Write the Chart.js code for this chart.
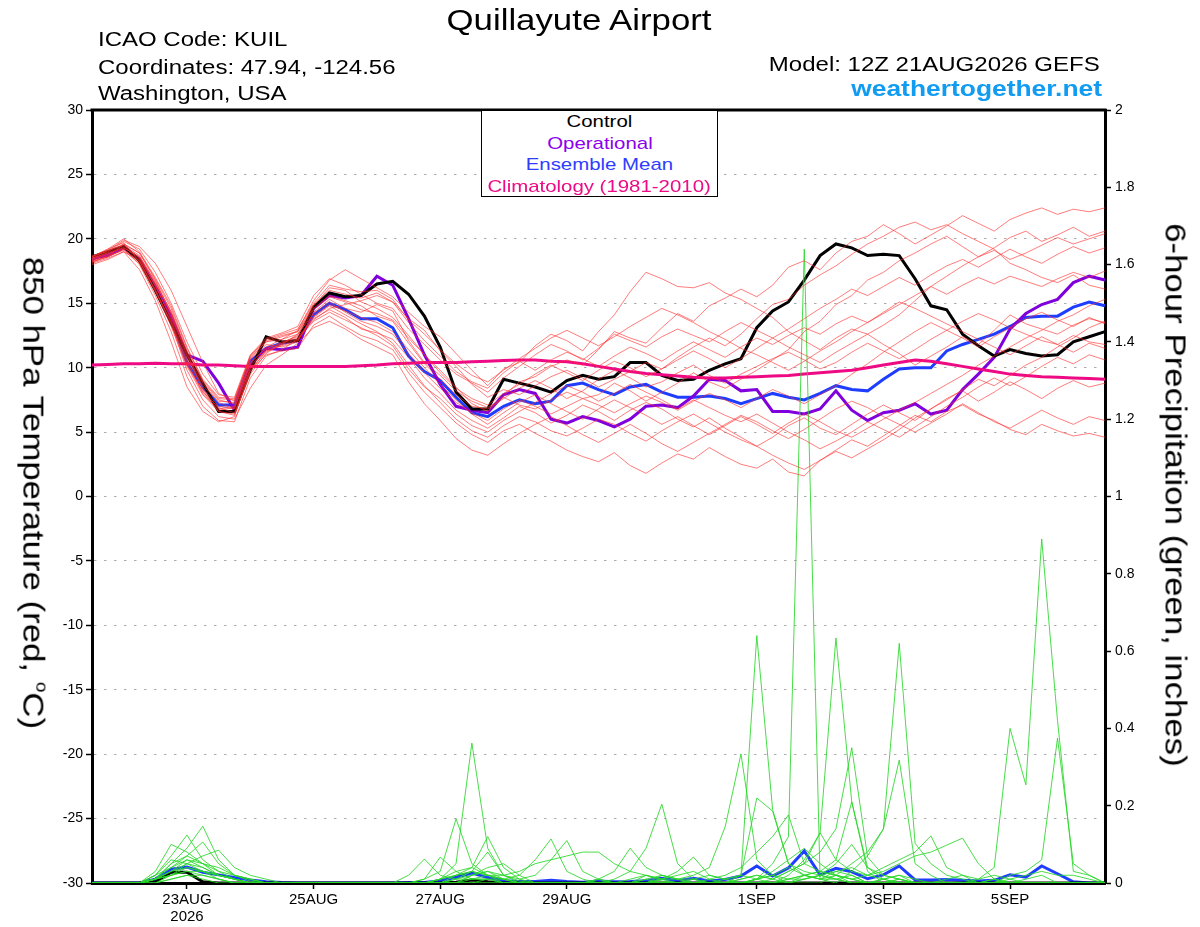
<!DOCTYPE html>
<html>
<head>
<meta charset="utf-8">
<title>Quillayute Airport - GEFS 850 hPa Temperature and Precipitation</title>
<script src="https://cdn.jsdelivr.net/npm/chart.js@4.4.1/dist/chart.umd.min.js"></script>
<style>
  body { margin: 0; background: #fff; font-family: "Liberation Sans", Arial, sans-serif; }
  #wrap { position: relative; width: 1200px; height: 927px; overflow: hidden; }
  #chart { position: absolute; left: 0; top: 0; }
  .txt { position: absolute; white-space: nowrap; line-height: 1; color: #000; }
  .left { transform-origin: left center; transform: scaleX(1.2); }
  .right { transform-origin: right center; transform: scaleX(1.2); }
  #legend { position: absolute; left: 481px; top: 110px; width: 235px; height: 85px;
            border: 1.5px solid #000; background: #fff; text-align: center; font-size: 17px; }
  #legend div { line-height: 21.7px; }
  #legend span { display: inline-block; transform: scaleX(1.2); }
  .axisTitle { position: absolute; white-space: nowrap; font-size: 29px; line-height: 1;
               transform: translate(-50%, -50%) rotate(90deg) scaleX(1.2); }
</style>
</head>
<body>
<div id="wrap">
  <canvas id="chart" width="1200" height="927"></canvas>

  <div class="txt" style="left:579px; top:5px; font-size:30px; transform: translateX(-50%) scaleX(1.16);">Quillayute Airport</div>
  <div class="txt left" style="left:98px; top:29px; font-size:20px;">ICAO Code: KUIL</div>
  <div class="txt left" style="left:98px; top:57px; font-size:20px;">Coordinates: 47.94, -124.56</div>
  <div class="txt left" style="left:98px; top:83px; font-size:20px;">Washington, USA</div>
  <div class="txt right" style="right:100px; top:54px; font-size:20px;">Model: 12Z 21AUG2026 GEFS</div>
  <div class="txt right" style="right:98px; top:78px; font-size:22px; font-weight:bold; color:#119cf2;">weathertogether.net</div>

  <div id="legend">
    <div><span style="color:#000;">Control</span></div>
    <div><span style="color:#8c00ee;">Operational</span></div>
    <div><span style="color:#2e3cff;">Ensemble Mean</span></div>
    <div><span style="color:#ee0a84;">Climatology (1981-2010)</span></div>
  </div>

  <div class="axisTitle" style="left:34px; top:493px;">850 hPa Temperature (red, <span style="font-size:0.55em; vertical-align:0.8em;">o</span>C)</div>
  <div class="axisTitle" style="left:1175px; top:495px;">6-hour Precipitation (green, inches)</div>
</div>

<script>
// 6-hourly forecast times, 21AUG2026 12Z to 06SEP2026 12Z
const times = [
    '21AUG12Z','21AUG18Z',
    '22AUG00Z','22AUG06Z','22AUG12Z','22AUG18Z',
    '23AUG00Z','23AUG06Z','23AUG12Z','23AUG18Z',
    '24AUG00Z','24AUG06Z','24AUG12Z','24AUG18Z',
    '25AUG00Z','25AUG06Z','25AUG12Z','25AUG18Z',
    '26AUG00Z','26AUG06Z','26AUG12Z','26AUG18Z',
    '27AUG00Z','27AUG06Z','27AUG12Z','27AUG18Z',
    '28AUG00Z','28AUG06Z','28AUG12Z','28AUG18Z',
    '29AUG00Z','29AUG06Z','29AUG12Z','29AUG18Z',
    '30AUG00Z','30AUG06Z','30AUG12Z','30AUG18Z',
    '31AUG00Z','31AUG06Z','31AUG12Z','31AUG18Z',
    '01SEP00Z','01SEP06Z','01SEP12Z','01SEP18Z',
    '02SEP00Z','02SEP06Z','02SEP12Z','02SEP18Z',
    '03SEP00Z','03SEP06Z','03SEP12Z','03SEP18Z',
    '04SEP00Z','04SEP06Z','04SEP12Z','04SEP18Z',
    '05SEP00Z','05SEP06Z','05SEP12Z','05SEP18Z',
    '06SEP00Z','06SEP06Z','06SEP12Z'
];

// labelled day ticks on the time axis
const tickText = {
    '23AUG00Z': ['23AUG', '2026'],
    '25AUG00Z': '25AUG',
    '27AUG00Z': '27AUG',
    '29AUG00Z': '29AUG',
    '01SEP00Z': '1SEP',
    '03SEP00Z': '3SEP',
    '05SEP00Z': '5SEP'
};

// 850 hPa temperature (C)
const control = [
    18.6,19.0,19.4,18.3,16.0,13.5,11.0,8.8,6.6,6.6,
    9.8,12.4,12.0,12.1,14.7,15.8,15.5,15.6,16.5,16.7,
    15.7,14.0,11.6,8.1,6.8,6.8,9.1,8.8,8.5,8.1,
    9.0,9.4,9.1,9.3,10.4,10.4,9.4,9.0,9.1,9.8,
    10.3,10.7,13.1,14.4,15.1,16.8,18.7,19.6,19.3,18.7,
    18.8,18.7,16.9,14.8,14.5,12.6,11.7,10.9,11.4,11.1,
    10.9,11.0,12.0,12.4,12.8
];
const operational = [
    18.5,18.7,19.3,18.4,16.3,14.0,11.0,10.5,8.8,6.7,
    10.2,11.5,11.4,11.6,14.6,15.6,15.4,15.6,17.1,16.4,
    13.8,11.0,8.7,7.0,6.7,6.5,7.9,8.3,8.0,6.0,
    5.7,6.2,5.9,5.4,6.0,7.0,7.1,6.9,7.8,9.1,
    9.0,8.2,8.3,6.6,6.6,6.4,6.8,8.2,6.7,5.9,
    6.5,6.7,7.2,6.4,6.7,8.3,9.5,10.8,13.0,14.2,
    14.9,15.3,16.6,17.1,16.8
];
const ensMean = [
    18.4,18.9,19.4,18.4,16.2,13.8,10.4,8.5,7.1,7.1,
    10.5,11.5,11.9,12.1,14.1,15.0,14.5,13.8,13.8,13.1,
    10.9,9.7,9.0,7.7,6.5,6.2,7.0,7.5,7.2,7.4,
    8.6,8.8,8.3,7.9,8.5,8.7,8.1,7.7,7.7,7.8,
    7.6,7.2,7.6,8.0,7.7,7.5,8.0,8.6,8.3,8.2,
    9.1,9.9,10.0,10.0,11.3,11.8,12.2,12.6,13.2,13.9,
    14.0,14.0,14.7,15.1,14.8
];
const climatology = [
    10.2,10.25,10.3,10.3,10.35,10.3,10.3,10.2,10.2,10.15,
    10.1,10.1,10.1,10.1,10.1,10.1,10.1,10.15,10.2,10.3,
    10.35,10.4,10.4,10.4,10.45,10.5,10.55,10.6,10.6,10.5,
    10.45,10.3,10.1,9.9,9.7,9.55,9.45,9.35,9.25,9.2,
    9.2,9.25,9.3,9.35,9.4,9.5,9.6,9.7,9.8,10.0,
    10.2,10.4,10.6,10.5,10.3,10.1,9.9,9.7,9.5,9.4,
    9.3,9.25,9.2,9.15,9.1
];

// ensemble members, 850 hPa temperature (C)
const tempMembers = [
    [18.2,18.6,19.6,18.9,16.8,14.2,11.0,8.8,7.3,6.8,
     9.9,11.2,11.8,12.6,14.8,16.2,16.0,15.1,14.6,13.9,
     12.5,11.0,9.8,8.5,7.2,6.6,7.8,8.9,9.3,10.1,
     10.6,10.2,11.4,12.8,12.3,11.9,13.1,14.2,13.6,14.8,
     15.4,16.1,15.5,16.4,17.8,18.3,17.6,18.9,19.8,20.2,
     21.1,20.4,19.6,20.3,21.0,21.8,21.2,20.6,21.5,22.0,
     22.4,21.9,22.3,22.1,22.4],
    [18.5,19.1,19.9,19.4,18.1,16.0,13.2,10.4,8.0,7.4,
     10.8,12.0,12.2,12.9,15.2,16.8,17.6,16.9,16.2,15.5,
     14.3,13.2,12.4,11.1,9.8,8.6,9.9,10.4,11.7,12.6,
     12.1,11.3,12.8,14.1,15.9,17.4,16.9,16.3,16.2,16.6,
     15.8,15.3,14.6,13.9,12.8,12.1,11.4,12.3,13.0,12.6,
     11.8,11.1,10.2,10.9,11.6,12.4,11.8,12.9,14.1,13.4,
     13.0,12.6,13.3,13.8,13.5],
    [18.0,18.4,19.0,17.6,15.2,12.0,8.5,6.6,5.8,6.2,
     9.8,11.0,11.3,11.5,13.3,14.0,13.2,12.5,12.1,11.4,
     9.6,8.1,6.9,5.7,4.8,4.2,5.1,5.6,4.9,4.3,
     3.6,3.1,2.7,3.4,2.4,1.8,2.6,3.3,2.9,3.8,
     3.1,2.5,2.2,2.9,1.9,1.6,2.8,3.6,4.4,3.9,
     4.7,5.5,6.3,5.8,6.6,7.1,6.4,5.9,5.2,4.8,
     5.6,5.1,4.7,4.9,4.6],
    [18.4,18.8,19.3,18.6,16.5,14.4,11.2,8.3,6.8,7.0,
     10.6,11.8,11.6,12.0,14.3,15.3,14.6,14.3,14.9,14.4,
     12.1,10.4,9.4,8.2,7.4,6.9,7.7,7.1,6.8,7.5,
     8.1,7.6,7.9,8.8,8.2,7.4,8.1,8.8,9.6,8.9,
     8.4,9.1,9.8,10.6,11.4,12.8,13.6,14.9,15.6,16.8,
     17.4,18.3,18.9,19.6,20.2,19.4,18.6,19.3,20.1,20.6,
     19.8,20.3,20.9,20.2,20.6],
    [18.6,19.2,19.7,18.2,16.0,13.2,10.1,7.9,6.6,6.4,
     9.5,11.1,11.9,12.3,13.7,14.6,14.9,15.2,15.6,15.1,
     13.8,12.9,11.3,10.1,8.7,7.7,8.3,7.9,8.6,9.3,
     9.8,9.2,8.5,9.1,9.7,10.4,9.9,10.8,11.6,12.3,
     11.7,12.6,13.8,14.9,15.3,16.4,17.2,17.9,18.8,19.6,
     20.2,20.9,21.3,20.7,21.1,20.4,19.8,19.2,18.1,17.6,
     17.0,16.6,17.2,16.4,16.1],
    [18.3,18.6,19.2,18.0,15.6,12.8,9.3,7.0,5.9,5.8,
     9.2,10.9,11.4,12.2,13.9,14.8,14.1,13.4,12.8,11.9,
     10.2,8.6,7.3,6.0,5.1,4.6,5.5,6.2,5.8,5.1,
     4.7,5.3,6.0,5.6,4.9,4.3,5.1,5.8,6.4,5.7,
     5.0,4.4,3.9,4.6,5.5,6.1,5.3,4.8,5.6,6.4,
     7.1,6.5,5.9,6.8,7.6,8.2,7.4,8.1,8.9,8.3,
     7.6,8.4,9.0,8.5,8.8],
    [18.5,18.9,19.5,18.7,16.6,14.1,10.9,8.6,7.4,7.3,
     10.9,12.1,12.5,12.8,14.6,15.6,15.2,14.8,14.0,13.6,
     11.9,10.3,9.1,7.9,7.0,6.8,7.6,8.4,9.0,8.4,
     7.6,8.2,9.1,9.8,9.2,8.5,8.9,9.6,10.2,9.4,
     8.8,9.5,10.1,10.7,11.2,10.6,9.9,10.4,11.2,11.9,
     11.3,10.7,11.4,12.2,12.9,12.3,11.6,12.4,13.1,12.6,
     12.1,11.8,12.5,12.0,11.8],
    [18.2,18.7,19.1,18.1,15.9,13.5,10.2,8.1,6.9,6.5,
     10.0,11.4,12.0,12.4,13.8,14.5,13.9,13.0,12.7,12.2,
     10.8,9.2,8.0,6.7,5.9,5.3,6.1,7.0,6.5,5.7,
     6.3,7.1,6.6,5.9,6.7,7.3,6.8,6.0,5.4,6.1,
     5.3,4.6,3.9,3.2,2.6,2.1,2.8,3.5,3.0,3.7,
     4.4,5.2,6.1,6.8,7.5,8.3,9.1,8.6,9.4,10.2,
     10.8,11.6,12.3,13.1,13.6],
    [18.7,19.0,19.8,19.2,17.4,15.0,12.0,9.5,7.9,7.7,
     11.0,12.3,12.7,13.2,15.6,16.9,16.4,15.7,15.0,14.6,
     13.0,11.8,10.6,9.5,8.8,8.1,9.2,10.1,11.0,11.8,
     11.3,10.6,11.5,12.6,12.1,11.6,12.4,13.0,12.5,12.0,
     12.8,13.5,12.9,12.3,11.6,11.0,10.4,11.2,11.9,12.6,
     13.3,14.1,15.2,16.3,17.1,17.9,18.6,19.1,18.4,18.9,
     19.5,20.1,19.6,20.0,20.4],
    [18.1,18.5,19.0,18.3,16.1,13.4,9.8,7.5,6.2,6.0,
     8.4,10.2,11.0,11.9,13.1,13.6,13.0,12.2,11.6,11.0,
     8.9,7.2,5.9,4.5,3.6,3.2,4.1,4.9,5.6,6.2,
     5.5,4.8,4.2,4.9,5.6,4.9,4.1,3.5,4.2,4.9,
     5.6,6.3,5.8,5.1,4.5,5.2,6.0,6.8,7.4,6.9,
     6.2,5.6,5.0,5.7,6.4,7.2,6.5,5.8,5.3,6.0,
     6.7,6.1,5.6,6.2,5.9],
    [18.4,19.0,19.6,18.9,16.9,14.6,11.5,9.0,7.6,7.5,
     10.7,12.0,12.4,12.8,14.9,16.0,15.7,15.4,15.8,15.1,
     13.5,12.1,10.9,9.7,8.9,8.4,9.6,10.5,9.8,10.6,
     11.2,10.7,10.1,10.9,11.6,11.1,10.5,11.3,12.0,11.4,
     10.8,11.6,12.3,11.8,12.5,13.1,12.6,13.4,14.0,13.5,
     14.2,14.9,15.6,16.3,15.7,16.4,17.0,16.5,17.1,16.7,
     16.3,16.9,17.4,17.0,17.5],
    [18.6,19.1,19.5,18.5,16.3,13.9,10.7,8.4,7.0,6.8,
     10.3,11.6,12.2,12.6,14.2,15.1,14.3,13.6,13.2,12.6,
     11.1,9.6,8.4,7.3,6.5,5.9,6.8,7.5,7.0,6.4,
     7.0,7.6,7.1,6.5,7.2,7.8,7.3,6.7,7.4,8.0,
     7.5,6.9,7.6,8.3,7.8,7.2,7.9,8.6,9.5,10.3,
     11.2,12.0,12.8,13.5,12.9,13.6,14.2,13.7,13.1,13.8,
     14.3,13.7,13.2,13.9,13.4],
    [18.3,18.8,19.4,18.4,16.4,13.7,10.5,8.0,6.7,6.9,
     10.2,11.3,11.7,12.1,14.0,14.9,14.4,13.9,13.5,12.8,
     11.4,10.0,8.7,7.5,6.4,5.6,6.5,7.3,7.9,7.2,
     6.6,6.0,6.8,7.5,6.9,6.3,5.6,6.2,5.5,4.8,
     5.5,6.2,5.6,4.9,5.7,6.4,5.8,5.1,4.6,5.3,
     6.0,6.7,7.3,8.0,8.7,9.4,10.2,10.9,11.6,12.3,
     12.9,13.6,14.1,14.8,15.3],
    [18.5,18.9,19.3,18.6,16.7,14.3,11.3,8.9,7.5,7.2,
     10.4,11.5,11.9,12.5,14.5,15.5,15.1,14.5,14.2,13.7,
     12.3,11.0,9.6,8.4,7.6,7.1,8.0,8.7,9.5,10.2,
     9.6,9.0,9.8,10.5,10.0,9.3,9.9,10.6,11.3,10.7,
     10.0,10.7,11.5,12.3,13.0,13.8,14.6,15.3,16.1,15.6,
     16.3,17.0,16.4,17.2,17.9,18.4,17.8,18.5,19.2,18.6,
     18.1,18.8,19.4,18.9,19.3],
    [18.2,18.6,19.2,18.3,16.0,13.6,10.3,8.2,6.6,6.3,
     9.7,11.3,11.8,12.2,13.6,14.3,13.7,13.1,12.5,11.7,
     9.9,8.5,7.6,6.4,5.5,5.0,5.9,6.6,7.3,8.0,
     8.6,8.1,7.4,8.0,8.7,8.1,7.5,6.8,7.5,6.9,
     6.3,5.8,6.4,5.7,5.0,4.4,3.7,4.3,5.0,5.8,
     5.2,4.6,5.4,6.2,7.0,7.7,8.5,9.2,8.6,9.3,
     10.1,10.8,10.3,11.0,10.6],
    [18.6,19.2,20.0,19.0,17.0,14.8,11.6,9.1,7.7,7.6,
     10.9,12.2,12.6,13.0,15.0,16.4,16.1,15.9,16.0,15.3,
     13.7,12.6,11.4,10.3,9.4,8.9,9.8,10.7,11.5,12.3,
     12.9,12.3,11.7,12.4,13.2,13.9,14.6,14.1,13.5,12.8,
     12.2,11.5,11.0,10.4,9.8,10.5,11.3,12.0,12.8,13.5,
     14.3,15.1,14.6,14.0,13.4,12.8,12.2,11.6,11.0,11.7,
     12.4,11.8,11.2,11.9,11.5]
];

// 6-hour precipitation (inches)
const precipControl = [
    0,0,0,0,0.003,0.028,0.028,0.003,0,0,
    0,0,0,0,0,0,0,0,0,0,
    0,0,0,0.002,0.008,0.003,0,0,0,0,
    0,0,0,0,0,0,0,0,0,0,
    0,0,0,0,0,0,0,0,0,0,
    0,0,0,0,0,0,0,0,0,0,
    0,0,0,0,0
];
const precipMean = [
    0,0,0,0,0.010,0.036,0.041,0.028,0.021,0.014,
    0.008,0.003,0.001,0,0,0,0,0,0,0,
    0.001,0.001,0.006,0.015,0.026,0.014,0.006,0.004,0.004,0.007,
    0.004,0.002,0.005,0.003,0.004,0.006,0.012,0.006,0.012,0.005,
    0.009,0.018,0.044,0.018,0.039,0.083,0.021,0.038,0.029,0.011,
    0.021,0.044,0.008,0.008,0.009,0.007,0.005,0.007,0.021,0.015,
    0.044,0.024,0.003,0,0
];
const precipMembers = [
    [0,0,0,0,0.01,0.05,0.09,0.147,0.06,0.02,
     0.005,0,0,0,0,0,0,0,0,0,
     0,0,0.01,0.05,0.362,0.09,0.02,0.005,0,0,
     0,0,0,0,0.01,0.02,0.005,0,0,0.01,
     0,0.02,0.01,0.05,0.12,1.64,0.01,0.02,0,0,
     0,0.01,0,0,0,0,0,0,0.01,0,
     0,0,0,0,0],
    [0,0,0,0,0.02,0.07,0.124,0.06,0.03,0.01,
     0,0,0,0,0,0,0,0,0,0,
     0,0.01,0.03,0.166,0.05,0.02,0.01,0,0,0,
     0,0,0.01,0,0,0,0.02,0.01,0,0,
     0.01,0.02,0.64,0.19,0.05,0.03,0.02,0.01,0.02,0,
     0.01,0,0,0,0,0,0,0,0,0.01,
     0.02,0,0,0,0],
    [0,0,0,0,0.03,0.10,0.08,0.05,0.02,0.01,
     0,0,0,0,0,0,0,0,0,0,
     0,0,0.01,0.02,0.04,0.12,0.04,0.01,0,0,
     0,0,0,0,0,0.01,0,0,0,0,
     0,0,0.01,0,0.02,0.06,0.13,0.634,0.21,0.03,
     0,0.01,0,0,0,0,0,0.01,0,0,
     0,0,0,0,0],
    [0,0,0,0,0.01,0.04,0.07,0.106,0.05,0.02,
     0.01,0,0,0,0,0,0,0,0,0,
     0.02,0.062,0.02,0.01,0.03,0.02,0,0,0,0,
     0,0,0,0,0,0,0,0,0.01,0,
     0,0.01,0.02,0.01,0,0.02,0.01,0,0.03,0.07,
     0.14,0.62,0.103,0.05,0.02,0.01,0,0.01,0,0,
     0,0,0,0,0],
    [0,0,0,0,0.01,0.03,0.05,0.07,0.085,0.04,
     0.02,0.01,0,0,0,0,0,0,0,0,
     0,0.01,0.067,0.03,0.01,0.01,0,0,0,0,
     0,0,0,0,0,0,0,0,0,0,
     0,0,0.01,0.02,0,0.01,0.02,0.01,0,0,
     0,0,0,0,0,0,0.01,0.04,0.40,0.254,
     0.89,0.42,0.03,0.02,0],
    [0,0,0,0,0.02,0.06,0.05,0.03,0.01,0,
     0,0,0,0,0,0,0,0,0,0,
     0,0,0,0.01,0.02,0.03,0.01,0.02,0.06,0.114,
     0.03,0.01,0,0,0,0.02,0.01,0,0,0,
     0,0,0.01,0.02,0.04,0.02,0.01,0.03,0.02,0,
     0.01,0.02,0,0,0,0,0,0,0.02,0.03,
     0.06,0.375,0.05,0.02,0],
    [0,0,0,0,0.01,0.02,0.05,0.04,0.02,0.01,
     0,0,0,0,0,0,0,0,0,0,
     0,0,0.01,0.02,0.03,0.08,0.02,0,0,0,
     0,0,0,0.01,0.03,0.09,0.204,0.05,0.01,0,
     0,0.01,0.02,0.01,0.03,0.05,0.08,0.14,0.35,0.067,
     0.02,0.01,0,0,0,0,0,0,0,0,
     0,0,0,0,0],
    [0,0,0,0,0,0.02,0.04,0.03,0.02,0.01,
     0,0,0,0,0,0,0,0,0,0,
     0,0,0,0.01,0.01,0.02,0.02,0.03,0.05,0.06,
     0.07,0.08,0.08,0.05,0.03,0.02,0.01,0.01,0.02,0.04,
     0.145,0.334,0.06,0.02,0.01,0.02,0.03,0.02,0.01,0,
     0,0,0,0,0,0,0,0,0,0,
     0,0,0,0,0],
    [0,0,0,0,0.01,0.05,0.07,0.05,0.03,0.02,
     0.01,0,0,0,0,0,0,0,0,0,
     0,0,0,0,0.02,0.03,0.02,0.01,0.02,0.06,
     0.11,0.03,0.01,0,0,0,0,0,0,0,
     0,0,0,0,0,0,0,0.02,0.05,0.08,
     0.14,0.318,0.05,0.02,0,0,0,0,0,0,
     0,0,0,0,0],
    [0,0,0,0,0.01,0.02,0.03,0.02,0.01,0,
     0,0,0,0,0,0,0,0,0,0,
     0,0,0,0,0.01,0.01,0,0,0,0,
     0,0,0.01,0.03,0.09,0.04,0.02,0.01,0.01,0.02,
     0.01,0.02,0.22,0.186,0.05,0.02,0.01,0.01,0,0,
     0,0,0,0,0,0,0,0,0,0,
     0,0,0,0,0],
    [0,0,0,0,0.02,0.04,0.06,0.05,0.04,0.02,
     0.01,0,0,0,0,0,0,0,0,0,
     0,0,0,0,0.02,0.04,0.05,0.02,0,0,
     0,0,0,0,0,0,0.01,0.02,0.03,0.01,
     0.02,0.04,0.08,0.12,0.176,0.05,0.03,0.06,0.21,0.04,
     0.01,0,0,0,0,0,0,0,0,0,
     0,0,0,0,0],
    [0,0,0,0,0,0.01,0.02,0.02,0.01,0,
     0,0,0,0,0,0,0,0,0,0,
     0,0,0,0,0,0,0,0,0,0,
     0,0,0,0,0,0,0.01,0.03,0.067,0.02,
     0.01,0,0,0.01,0.03,0.05,0.13,0.06,0.03,0.02,
     0.04,0.06,0.08,0.122,0.04,0.02,0,0,0,0,
     0,0,0,0,0],
    [0,0,0,0,0.01,0.03,0.06,0.04,0.02,0.01,
     0,0,0,0,0,0,0,0,0,0,
     0,0,0,0,0,0.01,0.01,0,0,0,
     0,0,0,0,0,0,0,0,0,0,
     0,0,0,0,0.01,0.02,0.03,0.02,0.01,0.02,
     0.03,0.05,0.07,0.08,0.098,0.116,0.05,0.01,0,0,
     0,0,0,0,0],
    [0,0,0,0,0.01,0.02,0.03,0.03,0.02,0.01,
     0,0,0,0,0,0,0,0,0,0,
     0,0,0.01,0.03,0.04,0.02,0.01,0,0,0,
     0,0,0,0,0,0.01,0.02,0.01,0,0,
     0,0,0.01,0.03,0.06,0.09,0.05,0.02,0.01,0,
     0,0,0,0,0.01,0.02,0.01,0.02,0.01,0.02,
     0.03,0.02,0.02,0.01,0],
    [0,0,0,0,0,0.01,0.02,0.01,0,0,
     0,0,0,0,0,0,0,0,0,0,
     0,0,0,0,0,0,0,0,0,0,
     0,0,0,0,0,0,0,0,0,0,
     0,0,0,0,0.01,0.01,0.02,0.05,0.1,0.04,
     0.02,0.01,0,0,0,0,0,0,0,0,
     0,0,0,0,0],
    [0,0,0,0,0.01,0.03,0.04,0.03,0.02,0.01,
     0,0,0,0,0,0,0,0,0,0,
     0,0,0,0.02,0.03,0.02,0.01,0,0,0,
     0,0,0,0,0,0,0,0,0,0,
     0,0,0,0,0,0.01,0.02,0.03,0.04,0.02,
     0.01,0.02,0.01,0,0,0,0,0,0,0,
     0,0,0,0,0]
];

// Build the datasets: thin member lines first, thick summary lines on top
const datasets = [];

tempMembers.forEach(member => {
    datasets.push({ data: member, yAxisID: 'y', borderColor: 'rgba(255,45,45,0.62)', borderWidth: 1 });
});
precipMembers.forEach(member => {
    datasets.push({ data: member, yAxisID: 'y1', borderColor: 'rgba(40,215,40,0.85)', borderWidth: 1 });
});

datasets.push({ data: climatology, yAxisID: 'y', borderColor: '#ee0a84', borderWidth: 3 });
datasets.push({ data: control, yAxisID: 'y', borderColor: '#000000', borderWidth: 3 });
datasets.push({ data: operational, yAxisID: 'y', borderColor: '#8000dd', borderWidth: 3 });
datasets.push({ data: ensMean, yAxisID: 'y', borderColor: '#1f3dff', borderWidth: 3 });
datasets.push({ data: precipControl, yAxisID: 'y1', borderColor: '#000000', borderWidth: 3 });
datasets.push({ data: precipMean, yAxisID: 'y1', borderColor: '#1f3dff', borderWidth: 3 });

// Chart.js only draws the left, right and bottom axis lines, so close the frame on top
const frameTop = {
    id: 'frameTop',
    afterDatasetsDraw(chart) {
        const { ctx, chartArea: a } = chart;
        ctx.save();
        ctx.strokeStyle = '#000';
        ctx.lineWidth = 3;
        ctx.beginPath();
        ctx.moveTo(a.left - 1.5, a.top);
        ctx.lineTo(a.right + 1.5, a.top);
        ctx.stroke();
        ctx.restore();
    }
};

const tickFont = { family: '"Liberation Sans", Arial, sans-serif', size: 14 };

new Chart(document.getElementById('chart').getContext('2d'), {
    type: 'line',
    data: { labels: times, datasets: datasets },
    options: {
        responsive: false,
        animation: false,
        devicePixelRatio: 1,
        layout: { padding: { top: 110, left: 0, right: 0, bottom: 0 } },
        elements: {
            point: { radius: 0, hoverRadius: 0 },
            line: { tension: 0, fill: false }
        },
        plugins: {
            legend: { display: false },
            tooltip: { enabled: false }
        },
        scales: {
            x: {
                type: 'category',
                offset: false,
                afterFit: function(scale) { scale.height = 44; },
                grid: {
                    drawOnChartArea: false,
                    drawTicks: true,
                    tickLength: 6,
                    tickWidth: 1.5,
                    tickColor: ctx => tickText[times[ctx.index]] ? '#000' : 'rgba(0,0,0,0)'
                },
                border: { display: true, color: '#000', width: 3 },
                ticks: {
                    autoSkip: false,
                    maxRotation: 0,
                    minRotation: 0,
                    padding: 2,
                    color: '#000',
                    font: { family: tickFont.family, size: 15, lineHeight: 1.15 },
                    callback: function(value, index) {
                        return tickText[times[index]] || '';
                    }
                }
            },
            y: {
                position: 'left',
                min: -30,
                max: 30,
                afterFit: function(scale) { scale.width = 92; },
                grid: {
                    color: '#aaaaaa',
                    lineWidth: 1,
                    drawTicks: true,
                    tickLength: 6,
                    tickWidth: 1.5,
                    tickColor: '#000',
                    tickBorderDash: []
                },
                border: { display: true, color: '#000', width: 3, dash: [2.5, 7.5] },
                ticks: { stepSize: 5, padding: 3, color: '#000', font: tickFont }
            },
            y1: {
                position: 'right',
                min: 0,
                max: 2,
                afterFit: function(scale) { scale.width = 95; },
                grid: {
                    drawOnChartArea: false,
                    drawTicks: true,
                    tickLength: 6,
                    tickWidth: 1.5,
                    tickColor: '#000'
                },
                border: { display: true, color: '#000', width: 3 },
                ticks: {
                    stepSize: 0.2,
                    padding: 4,
                    color: '#000',
                    font: tickFont,
                    callback: value => String(Number(value.toFixed(1)))
                }
            }
        }
    },
    plugins: [frameTop]
});
</script>
</body>
</html>
